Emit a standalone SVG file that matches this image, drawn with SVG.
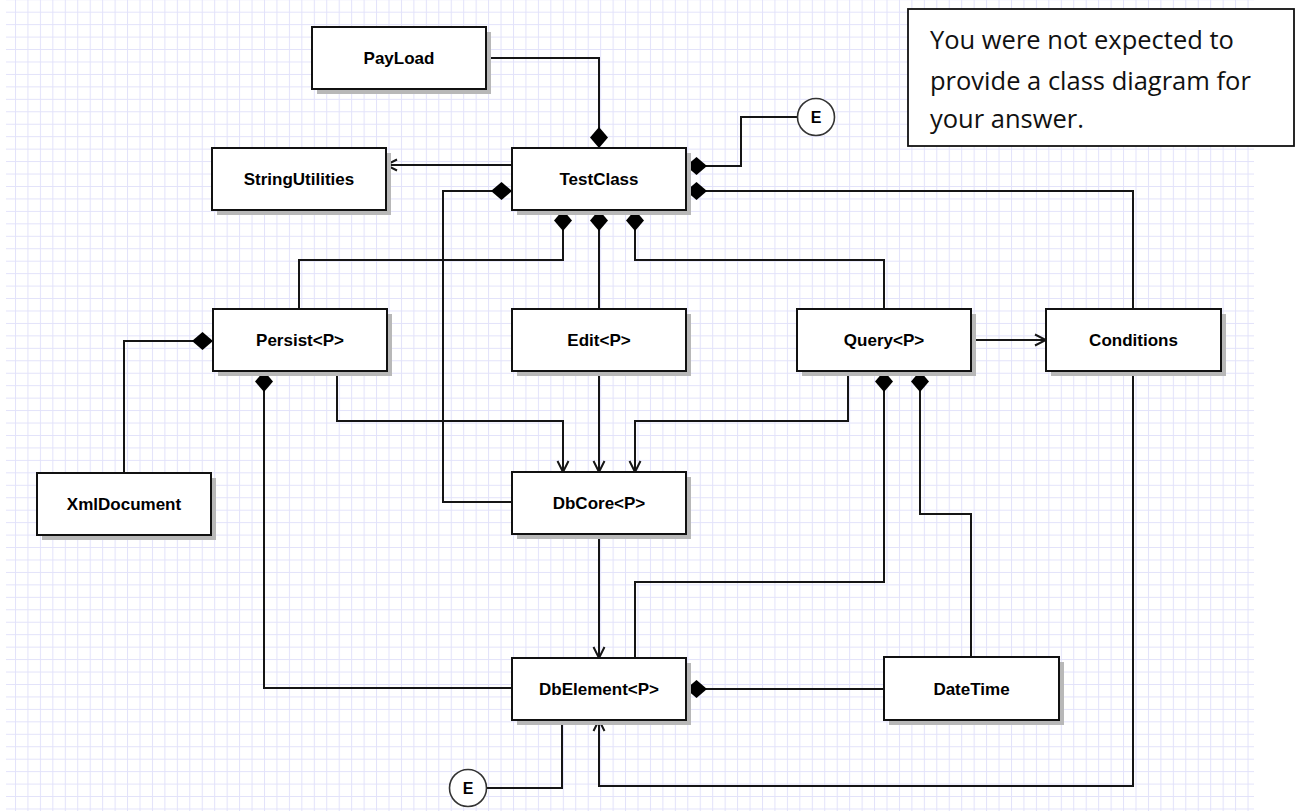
<svg xmlns="http://www.w3.org/2000/svg" width="1298" height="811" viewBox="0 0 1298 811">
<style>
.box{fill:#fff;stroke:#111;stroke-width:2}
.sh{fill:#b8b8b8}
.lbl{font-family:"Liberation Sans",Arial,sans-serif;font-weight:bold;font-size:17px;fill:#000;text-anchor:middle}
.c{fill:none;stroke:#151515;stroke-width:2}
.d{marker-start:url(#dia)}
.a{marker-end:url(#arr)}
.note{font-family:"Open Sans","Liberation Sans",sans-serif;font-size:25.5px;fill:#111}
.circ{fill:#fff;stroke:#333;stroke-width:1.6}
.e{font-family:"Liberation Sans",Arial,sans-serif;font-weight:bold;font-size:16px;fill:#000;text-anchor:middle}
</style>
<defs>
<pattern id="grid" patternUnits="userSpaceOnUse" x="15" y="11.7" width="12.45" height="12.45">
<path d="M0,0.5 H12.45 M0.5,0 V12.45" fill="none" stroke="#e2e2fa" stroke-width="1"/>
</pattern>
<marker id="dia" markerUnits="userSpaceOnUse" viewBox="-1 -11 24 22" refX="0" refY="0" markerWidth="24" markerHeight="22" orient="auto">
<path d="M0,0 L10.5,-9 L21,0 L10.5,9 Z" fill="#000"/>
</marker>
<marker id="arr" markerUnits="userSpaceOnUse" viewBox="-13 -8 15 16" refX="0" refY="0" markerWidth="15" markerHeight="16" orient="auto">
<path d="M-11,-5.5 L0,0 L-11,5.5" fill="none" stroke="#151515" stroke-width="2"/>
</marker>
</defs>
<rect x="0" y="0" width="1298" height="811" fill="#fff"/>
<rect x="6" y="0" width="1248" height="811" fill="url(#grid)"/>

<g id="connectors">
<path class="c d" d="M599,148 V58 H486"/>
<path class="c a" d="M512,165 H386"/>
<path class="c d" d="M512,191 H443 V502 H512"/>
<path class="c d" d="M686,166 H741 V117 H797.5"/>
<path class="c d" d="M686,191 H1133 V309"/>
<path class="c d" d="M563,210 V260 H299 V309"/>
<path class="c d" d="M599,210 V309"/>
<path class="c d" d="M635,210 V260 H884 V309"/>
<path class="c d" d="M213,341 H124 V473"/>
<path class="c d" d="M264,371 V688 H512"/>
<path class="c a" d="M337,371 V421 H563 V472"/>
<path class="c a" d="M599,371 V472"/>
<path class="c a" d="M848,371 V421 H635 V472"/>
<path class="c a" d="M971,340 H1046"/>
<path class="c d" d="M884,371 V582 H635 V658"/>
<path class="c d" d="M920,371 V514 H971 V657"/>
<path class="c a" d="M599,534 V658"/>
<path class="c d" d="M686,689 H884"/>
<path class="c" d="M562,720 V788 H486.5"/>
<path class="c a" d="M1133,371 V786 H599 V720"/>
</g>

<g id="PayLoad"><rect class="sh" x="317" y="32" width="174" height="62"/><rect class="box" x="312" y="27" width="174" height="62"/><text class="lbl" x="399" y="64">PayLoad</text></g>
<g id="StringUtilities"><rect class="sh" x="217" y="153" width="174" height="62"/><rect class="box" x="212" y="148" width="174" height="62"/><text class="lbl" x="299" y="185">StringUtilities</text></g>
<g id="TestClass"><rect class="sh" x="517" y="153" width="174" height="62"/><rect class="box" x="512" y="148" width="174" height="62"/><text class="lbl" x="599" y="185">TestClass</text></g>
<g id="Persist"><rect class="sh" x="218" y="314" width="174" height="62"/><rect class="box" x="213" y="309" width="174" height="62"/><text class="lbl" x="300" y="346">Persist&lt;P&gt;</text></g>
<g id="Edit"><rect class="sh" x="517" y="314" width="174" height="62"/><rect class="box" x="512" y="309" width="174" height="62"/><text class="lbl" x="599" y="346">Edit&lt;P&gt;</text></g>
<g id="Query"><rect class="sh" x="802" y="314" width="174" height="62"/><rect class="box" x="797" y="309" width="174" height="62"/><text class="lbl" x="884" y="346">Query&lt;P&gt;</text></g>
<g id="Conditions"><rect class="sh" x="1051" y="314" width="175" height="62"/><rect class="box" x="1046" y="309" width="175" height="62"/><text class="lbl" x="1133.5" y="346">Conditions</text></g>
<g id="XmlDocument"><rect class="sh" x="42" y="478" width="174" height="62"/><rect class="box" x="37" y="473" width="174" height="62"/><text class="lbl" x="124" y="510">XmlDocument</text></g>
<g id="DbCore"><rect class="sh" x="517" y="477" width="174" height="62"/><rect class="box" x="512" y="472" width="174" height="62"/><text class="lbl" x="599" y="509">DbCore&lt;P&gt;</text></g>
<g id="DbElement"><rect class="sh" x="517" y="663" width="174" height="62"/><rect class="box" x="512" y="658" width="174" height="62"/><text class="lbl" x="599" y="695">DbElement&lt;P&gt;</text></g>
<g id="DateTime"><rect class="sh" x="889" y="662" width="175" height="63"/><rect class="box" x="884" y="657" width="175" height="63"/><text class="lbl" x="971.5" y="694.5">DateTime</text></g>
<g id="E1"><circle class="circ" cx="816" cy="117" r="18.5"/><text class="e" x="816" y="122.5">E</text></g>
<g id="E2"><circle class="circ" cx="468" cy="788" r="18.5"/><text class="e" x="468" y="793.5">E</text></g>
<g id="note"><rect x="908" y="9" width="386" height="137" fill="#fff" stroke="#111" stroke-width="1.8"/>
<text class="note" x="930" y="49">You were not expected to</text>
<text class="note" x="930" y="90">provide a class diagram for</text>
<text class="note" x="930" y="128">your answer.</text></g>
</svg>
